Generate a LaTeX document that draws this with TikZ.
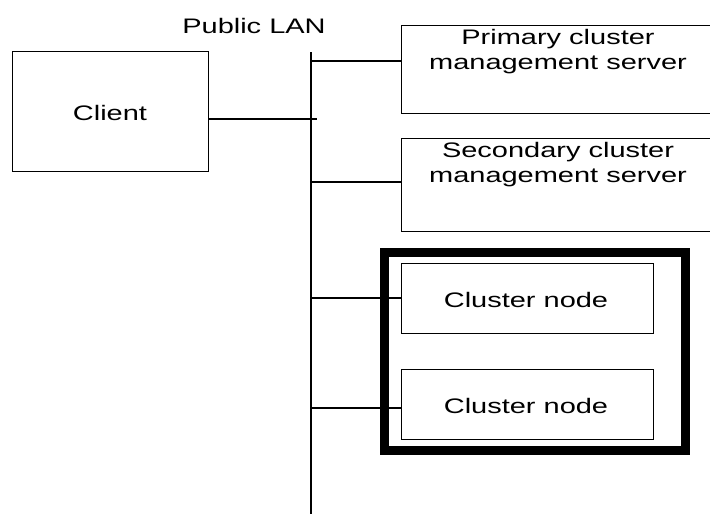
\documentclass[tikz,border=0pt]{standalone}
\usepackage{fontspec}
\setmainfont{Liberation Sans}[FakeStretch=1.38]
\begin{document}
\begin{tikzpicture}[x=1pt,y=-1pt,
  box/.style={draw, line width=1.4pt, anchor=north west, inner sep=0pt},
  lbl/.style={font=\fontsize{21}{25}\selectfont, align=center, inner sep=0pt},
  wire/.style={line width=1.4pt}]
\useasboundingbox (0,0) rectangle (710,514);
\clip (0,0) rectangle (710,514);

% client and its label
\node[box, minimum width=196pt, minimum height=120pt] (client) at (12,51) {};
\node[lbl] (clientlbl) at (110,113) {Client};

% LAN backbone
\node[lbl] (lanlbl) at (254,26) {Public LAN};
\coordinate (lantop) at (311,52);
\coordinate (lanbot) at (311,516);
\draw[wire] (lantop) -- (lanbot);

% management servers (running off the right edge)
\node[box, minimum width=320pt, minimum height=88pt] (prim) at (401,25) {};
\node[lbl, anchor=north] (primlbl) at (558,29) {Primary cluster\\management server};
\node[box, minimum width=320pt, minimum height=93pt] (sec) at (401,138) {};
\node[lbl, anchor=north] (seclbl) at (558,142) {Secondary cluster\\management server};

% cluster group
\node[draw, line width=9pt, anchor=north west, inner sep=0pt,
      minimum width=301pt, minimum height=198pt] (group) at (380,248) {};
\node[box, minimum width=252pt, minimum height=70pt] (cn1) at (401,263) {};
\node[lbl] (cn1lbl) at (526,300) {Cluster node};
\node[box, minimum width=252pt, minimum height=70pt] (cn2) at (401,369) {};
\node[lbl] (cn2lbl) at (526,406) {Cluster node};

% taps on the backbone
\coordinate (tapc) at (317,119);
\draw[wire] (client.east |- tapc) -- (tapc);
\coordinate (tap1) at (311,61);
\draw[wire] (tap1) -- (prim.west |- tap1);
\coordinate (tap2) at (311,182);
\draw[wire] (tap2) -- (sec.west |- tap2);
\coordinate (tap3) at (311,298);
\draw[wire] (tap3) -- (cn1.west |- tap3);
\coordinate (tap4) at (311,408);
\draw[wire] (tap4) -- (cn2.west |- tap4);
\end{tikzpicture}
\end{document}
